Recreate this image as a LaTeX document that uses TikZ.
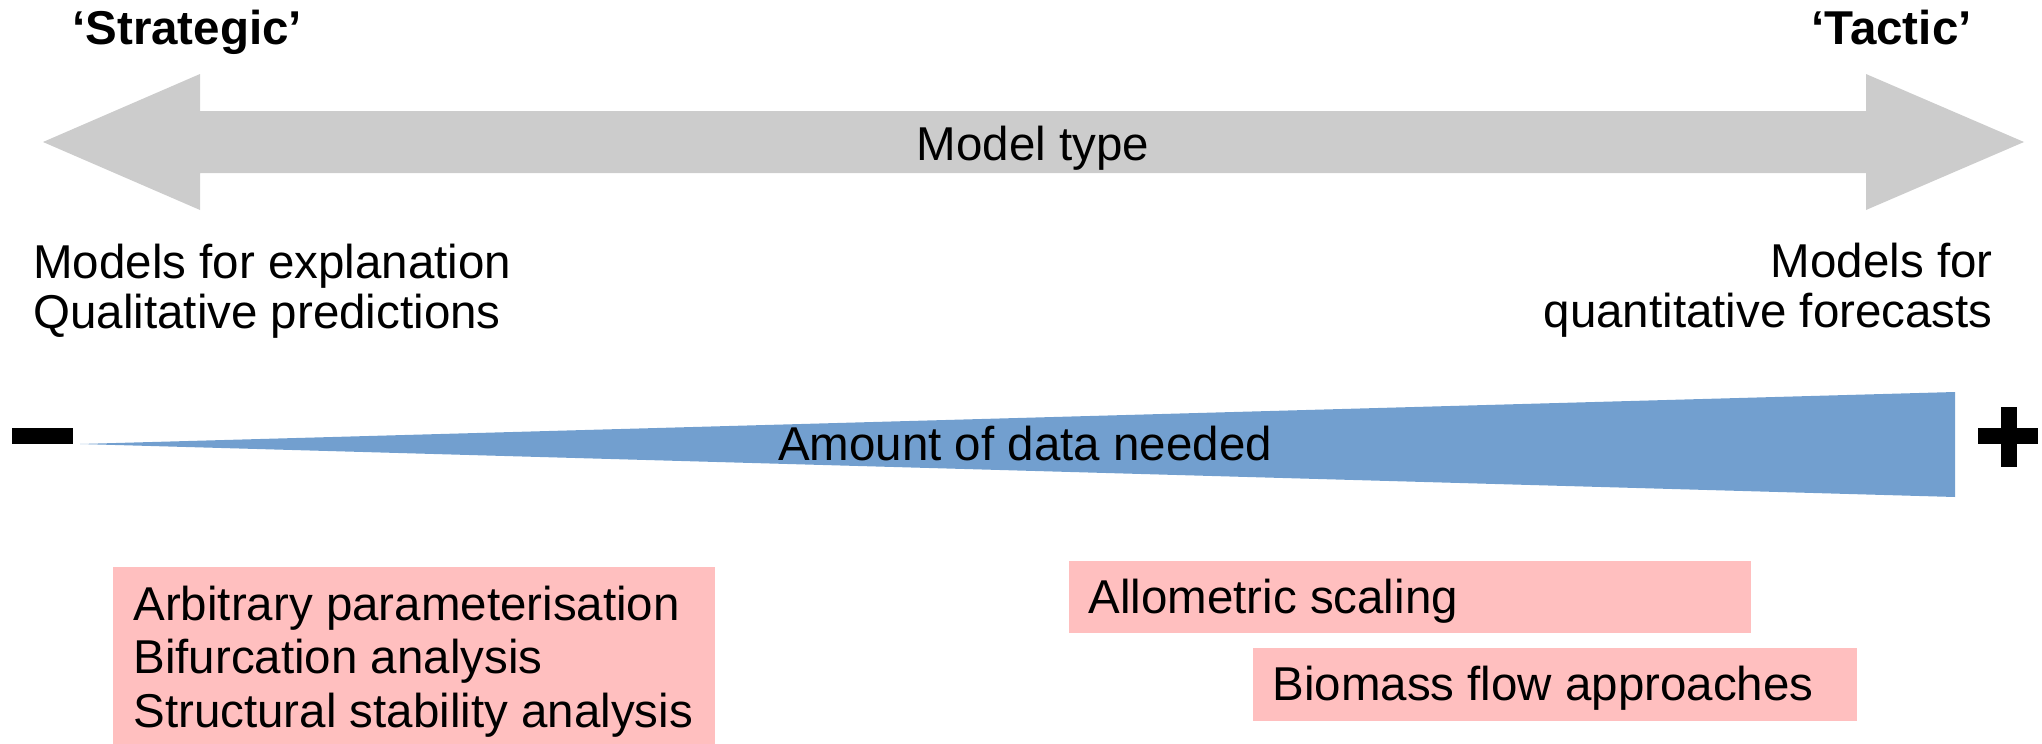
\documentclass[tikz,border=0pt]{standalone}
\usepackage{fontspec}
\setmainfont{Liberation Sans}
\definecolor{arrowgray}{HTML}{CCCCCC}
\definecolor{wedgeblue}{HTML}{729FCF}
\definecolor{boxpink}{HTML}{FFBFBF}
\tikzset{
  txt/.style={inner sep=0pt, font=\fontsize{23.75}{25}\selectfont},
  headtxt/.style={inner sep=0pt, font=\fontsize{23.75}{25}\selectfont\bfseries},
  boxtxt/.style={inner sep=0pt, align=left, font=\fontsize{23.75}{26.75}\selectfont},
  pinkfill/.style={fill=boxpink, draw=none},
  signfill/.style={fill=black, draw=none}
}
\begin{document}
\begin{tikzpicture}[x=0.5pt, y=-0.5pt]
\useasboundingbox (0,0) rectangle (2042,744);
% double grey arrow
\fill[arrowgray] (43,142) -- (200,74) -- (200,111) -- (1866,111) -- (1866,74)
  -- (2024,142) -- (1866,210) -- (1866,173) -- (200,173) -- (200,210) -- cycle;
\node[txt, anchor=base] (mtype) at (1033,160) {Model type};
\node[headtxt, anchor=base west] (strat) at (72,44) {‘Strategic’};
\node[headtxt, anchor=base east] (tact) at (1972,44) {‘Tactic’};
% multi-line nodes: base anchor is the baseline of the last line
\node[txt, anchor=base west, align=left] (expl) at (33,328) {Models for explanation\\Qualitative predictions};
\node[txt, anchor=base east, align=right] (fore) at (1993,327) {Models for\\quantitative forecasts};
% data wedge
\fill[wedgeblue] (80,444) -- (1955,392) -- (1955,497) -- cycle;
\node[txt, anchor=base] (amount) at (1025,460) {Amount of data needed};
% minus and plus
\fill[signfill] (12,428) rectangle (73,444);
\fill[signfill] (1978,428) rectangle (2038,444);
\fill[signfill] (2001,407) rectangle (2017,467);
% pink boxes
\fill[pinkfill] (113,567) rectangle (715,770);
\node[boxtxt, anchor=base west] (strattools) at (133,727) {Arbitrary parameterisation\\Bifurcation analysis\\Structural stability analysis};
\fill[pinkfill] (1069,561) rectangle (1751,633);
\node[txt, anchor=base west] (allo) at (1088,613) {Allometric scaling};
\fill[pinkfill] (1253,648) rectangle (1857,721);
\node[txt, anchor=base west] (bio) at (1272,700) {Biomass flow approaches};
\end{tikzpicture}
\end{document}
